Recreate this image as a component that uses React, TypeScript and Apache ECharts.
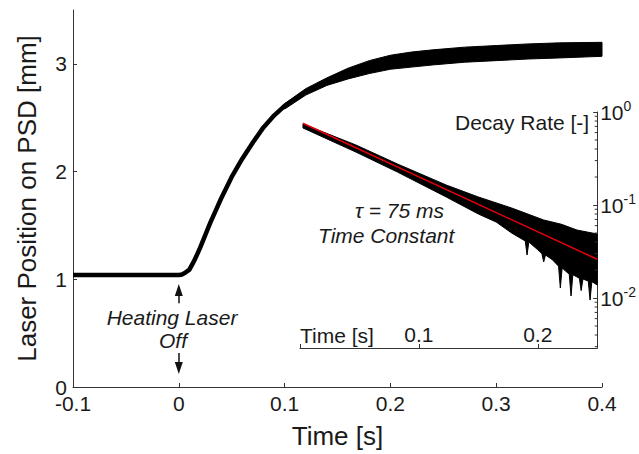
import React, { useEffect, useRef } from "react";
import * as echarts from "echarts";

// ---------- Main plot data (laser position on PSD) ----------
const mainTime = [-0.1, -0.05, 0, 0.003, 0.006, 0.01, 0.015, 0.02, 0.025, 0.03, 0.035, 0.04, 0.05, 0.06, 0.07, 0.08, 0.09, 0.1, 0.12, 0.14, 0.16, 0.18, 0.2, 0.22, 0.24, 0.27, 0.3, 0.33, 0.36, 0.4];
const mainPosition = [1.04, 1.04, 1.04, 1.045, 1.06, 1.09, 1.18, 1.29, 1.41, 1.53, 1.64, 1.75, 1.95, 2.12, 2.27, 2.41, 2.52, 2.61, 2.74, 2.835, 2.91, 2.97, 3.015, 3.04, 3.06, 3.085, 3.1, 3.115, 3.125, 3.135];
// noise envelope of the plateau
const mainBandTime = [0.1, 0.12, 0.14, 0.16, 0.18, 0.2, 0.22, 0.24, 0.27, 0.3, 0.33, 0.36, 0.4];
const mainBandUpper = [2.63, 2.77, 2.87, 2.96, 3.03, 3.08, 3.11, 3.13, 3.155, 3.17, 3.185, 3.195, 3.2];
const mainBandLower = [2.58, 2.71, 2.8, 2.86, 2.91, 2.95, 2.97, 2.99, 3.015, 3.03, 3.045, 3.055, 3.07];
const mainXTicks = [-0.1, 0, 0.1, 0.2, 0.3, 0.4];
const mainYTicks = [0, 1, 2, 3];
// arrows marking "heating laser off" (time, position)
const arrowUp = [[0, 0.778], [0, 0.9]];
const arrowDown = [[0, 0.315], [0, 0.176]];

// ---------- Inset data (decay rate, log scale) ----------
const insetUpperTime = [0.0025, 0.047, 0.082, 0.123, 0.15, 0.178, 0.205, 0.22, 0.233, 0.25];
const insetUpper = [0.743, 0.442, 0.276, 0.164, 0.122, 0.0929, 0.069, 0.062, 0.0538, 0.0488];
const insetLowerTime = [0.0025, 0.047, 0.082, 0.123, 0.15, 0.165, 0.178, 0.1895, 0.191, 0.1925, 0.2, 0.2035, 0.205, 0.2065, 0.212, 0.2175, 0.219, 0.2205, 0.2265, 0.228, 0.2295, 0.235, 0.2365, 0.238, 0.2425, 0.244, 0.2455, 0.25];
const insetLower = [0.673, 0.371, 0.226, 0.122, 0.08, 0.0656, 0.05, 0.041, 0.029, 0.04, 0.033, 0.03, 0.0244, 0.029, 0.026, 0.022, 0.0128, 0.021, 0.018, 0.0105, 0.0178, 0.0163, 0.012, 0.016, 0.0152, 0.0095, 0.015, 0.0138];
const fitTime = [0.0025, 0.25];
const fitDecay = [0.756, 0.0261];
const insetXLabels = [0.1, 0.2];
const insetXTicks = [0, 0.1, 0.2];
const insetMinorTicks = [0.9, 0.8, 0.7, 0.6, 0.5, 0.4, 0.3, 0.2, 0.09, 0.08, 0.07, 0.06, 0.05, 0.04, 0.03, 0.02, 0.009, 0.008, 0.007, 0.006, 0.005, 0.004, 0.003];

const FONT = "'Liberation Sans', Arial, Helvetica, sans-serif";
const INK = "#1a1a1a";
const AXIS = "#333";

function near(a: number, list: number[]) {
  return list.some((v) => Math.abs(v - a) < 1e-9);
}

function bandRenderer(tU: number[], up: number[], tL: number[], lo: number[]) {
  return (params: any, api: any) => {
    if (params.dataIndex !== 0) return null;
    const pts: number[][] = [];
    for (let i = 0; i < tU.length; i++) pts.push(api.coord([tU[i], up[i]]));
    for (let i = tL.length - 1; i >= 0; i--) pts.push(api.coord([tL[i], lo[i]]));
    return {
      type: "polygon",
      shape: { points: pts },
      style: { fill: "#000", stroke: "#000", lineWidth: 1 },
    };
  };
}

export default function App() {
  const ref = useRef<HTMLDivElement>(null);

  useEffect(() => {
    if (!ref.current) return;
    const chart = echarts.init(ref.current, null, { renderer: "svg" });

    const option: any = {
      animation: false,
      backgroundColor: "#fff",
      textStyle: { fontFamily: FONT },
      grid: [
        { left: 73, right: 37, top: 10, bottom: 67 },
        { left: 300, right: 37, top: 112, bottom: 106 },
      ],
      xAxis: [
        {
          gridIndex: 0,
          type: "value",
          min: -0.1,
          max: 0.4,
          interval: 0.1,
          name: "Time [s]",
          nameLocation: "middle",
          nameGap: 36,
          nameTextStyle: { fontSize: 26, color: INK, fontFamily: FONT },
          axisLine: { show: true, onZero: false, lineStyle: { color: AXIS, width: 1 } },
          axisTick: { show: true, inside: true, length: 4, customValues: mainXTicks, lineStyle: { color: AXIS } },
          axisLabel: {
            fontSize: 21,
            color: INK,
            margin: 6,
            fontFamily: FONT,
            customValues: mainXTicks,
            formatter: (v: number) => (near(v, mainXTicks) ? String(Math.round(v * 10) / 10) : ""),
          },
          splitLine: { show: false },
        },
        {
          gridIndex: 1,
          type: "value",
          min: 0,
          max: 0.25,
          interval: 0.1,
          name: "Time [s]",
          nameLocation: "start",
          nameGap: 0,
          nameTextStyle: { fontSize: 21, color: INK, fontFamily: FONT, align: "left", verticalAlign: "bottom", padding: [0, 0, 2, 0] },
          axisLine: { show: true, onZero: false, lineStyle: { color: AXIS, width: 1 } },
          axisTick: { show: true, inside: true, length: 4, customValues: insetXTicks, lineStyle: { color: AXIS } },
          axisLabel: {
            inside: true,
            fontSize: 21,
            color: INK,
            margin: 3,
            fontFamily: FONT,
            customValues: insetXLabels,
            formatter: (v: number) => (near(v, insetXLabels) ? String(Math.round(v * 10) / 10) : ""),
          },
          splitLine: { show: false },
        },
      ],
      yAxis: [
        {
          gridIndex: 0,
          type: "value",
          min: 0,
          max: 3.5,
          interval: 1,
          name: "Laser Position on PSD [mm]",
          nameLocation: "middle",
          nameGap: 33,
          nameTextStyle: { fontSize: 26, color: INK, fontFamily: FONT },
          axisLine: { show: true, onZero: false, lineStyle: { color: AXIS, width: 1 } },
          axisTick: { show: true, inside: true, length: 4, customValues: mainYTicks, lineStyle: { color: AXIS } },
          axisLabel: {
            fontSize: 21,
            color: INK,
            margin: 6,
            fontFamily: FONT,
            customValues: mainYTicks,
            formatter: (v: number) => (near(v, mainYTicks) ? String(v) : ""),
          },
          splitLine: { show: false },
        },
        {
          gridIndex: 1,
          type: "log",
          logBase: 10,
          min: 0.0029,
          max: 1,
          position: "right",
          name: "Decay Rate [-]",
          nameLocation: "end",
          nameGap: -10,
          nameTextStyle: { fontSize: 21, color: INK, fontFamily: FONT, align: "right", verticalAlign: "middle", padding: [0, 8, 0, 0] },
          axisLine: { show: true, onZero: false, lineStyle: { color: AXIS, width: 1 } },
          axisTick: { show: true, inside: true, length: 4, lineStyle: { color: AXIS } },
          axisLabel: {
            fontSize: 21,
            color: INK,
            margin: 3,
            fontFamily: FONT,
            formatter: (v: number) => {
              const e = Math.log10(v);
              const r = Math.round(e);
              if (Math.abs(e - r) > 1e-6) return "";
              return "{b|10}{s|" + r + "}";
            },
            rich: {
              b: { fontSize: 21, color: INK, fontFamily: FONT, lineHeight: 26 },
              s: { fontSize: 14, color: INK, fontFamily: FONT, verticalAlign: "top", lineHeight: 14 },
            },
          },
          splitLine: { show: false },
        },
      ],
      series: [
        {
          type: "line",
          xAxisIndex: 0,
          yAxisIndex: 0,
          data: mainTime.map((t, i) => [t, mainPosition[i]]),
          showSymbol: false,
          symbol: "none",
          lineStyle: { color: "#000", width: 4.5, join: "round", cap: "butt" },
          z: 3,
          markLine: {
            silent: true,
            symbol: ["none", "triangle"],
            symbolSize: [8, 12],
            label: { show: false },
            lineStyle: { color: "#111", width: 1.5, type: "solid" },
            data: [
              [{ coord: arrowUp[0] }, { coord: arrowUp[1] }],
              [{ coord: arrowDown[0] }, { coord: arrowDown[1] }],
            ],
          },
        },
        {
          type: "custom",
          xAxisIndex: 0,
          yAxisIndex: 0,
          data: [[mainBandTime[0], mainBandUpper[0]]],
          renderItem: bandRenderer(mainBandTime, mainBandUpper, mainBandTime, mainBandLower),
          z: 3,
          silent: true,
        },
        {
          type: "custom",
          xAxisIndex: 1,
          yAxisIndex: 1,
          data: [[insetUpperTime[0], insetUpper[0]]],
          renderItem: bandRenderer(insetUpperTime, insetUpper, insetLowerTime, insetLower),
          z: 4,
          silent: true,
        },
        {
          type: "line",
          xAxisIndex: 1,
          yAxisIndex: 1,
          data: fitTime.map((t, i) => [t, fitDecay[i]]),
          showSymbol: false,
          symbol: "none",
          lineStyle: { color: "#e8000b", width: 1.5 },
          z: 5,
        },
        {
          type: "custom",
          xAxisIndex: 1,
          yAxisIndex: 1,
          data: insetMinorTicks.map((v) => [0.25, v]),
          renderItem: (params: any, api: any) => {
            const p = api.coord([api.value(0), api.value(1)]);
            return {
              type: "line",
              shape: { x1: p[0] - 2.5, y1: p[1], x2: p[0], y2: p[1] },
              style: { stroke: AXIS, lineWidth: 1 },
            };
          },
          z: 6,
          silent: true,
        },
      ],
      graphic: [
        {
          type: "text",
          x: 172,
          y: 317,
          style: { text: "Heating Laser", fontSize: 21, fontStyle: "italic", fontFamily: FONT, fill: INK, align: "center", verticalAlign: "middle" },
        },
        {
          type: "text",
          x: 173,
          y: 340,
          style: { text: "Off", fontSize: 21, fontStyle: "italic", fontFamily: FONT, fill: INK, align: "center", verticalAlign: "middle" },
        },
        {
          type: "text",
          x: 355,
          y: 210,
          style: { text: "τ = 75 ms", fontSize: 21, fontStyle: "italic", fontFamily: FONT, fill: INK, align: "left", verticalAlign: "middle" },
        },
        {
          type: "text",
          x: 318,
          y: 235,
          style: { text: "Time Constant", fontSize: 21, fontStyle: "italic", fontFamily: FONT, fill: INK, align: "left", verticalAlign: "middle" },
        },
      ],
    };

    chart.setOption(option);
    return () => chart.dispose();
  }, []);

  return <div ref={ref} style={{ position: "fixed", left: 0, top: 0, width: 639, height: 454 }} />;
}
